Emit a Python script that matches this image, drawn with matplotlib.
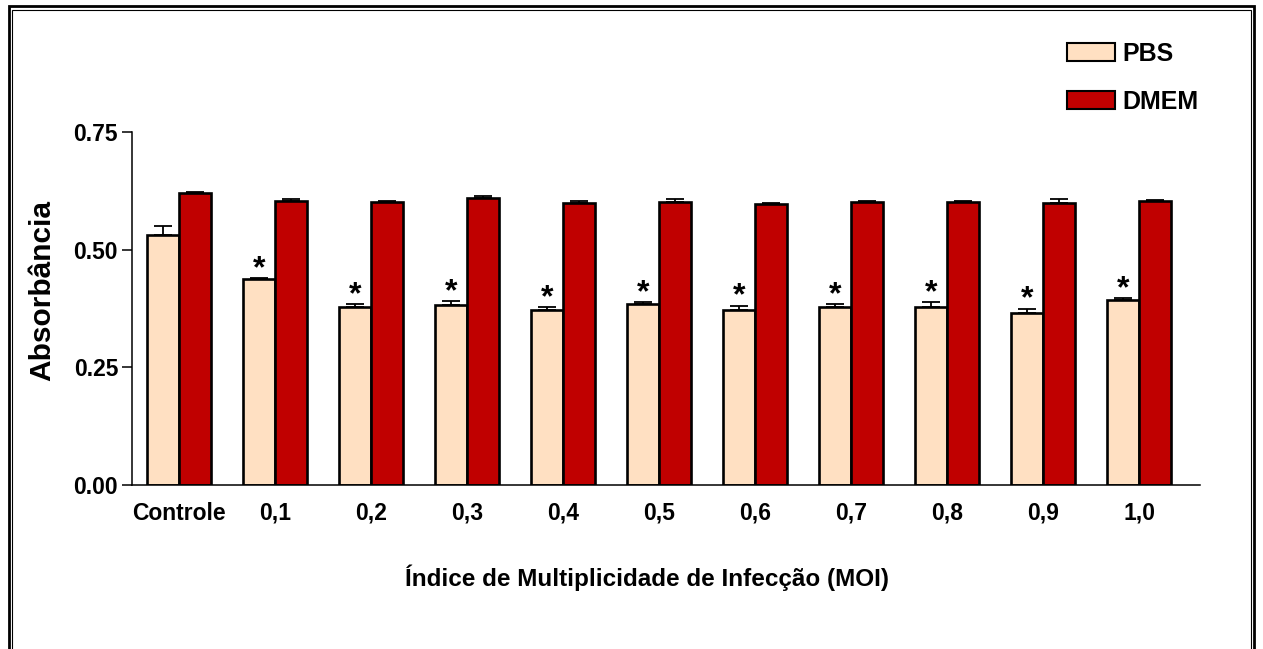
import matplotlib
matplotlib.use('Agg')
import matplotlib.pyplot as plt
from matplotlib.patches import Rectangle, Patch

import numpy as np

plt.rcParams['font.family'] = ['Liberation Sans', 'DejaVu Sans']
plt.rcParams['font.weight'] = 'bold'

# Absorbance per MOI group (mean and upper SEM)
groups = ['Controle', '0,1', '0,2', '0,3', '0,4', '0,5', '0,6', '0,7', '0,8', '0,9', '1,0']
pbs_mean = [0.532, 0.438, 0.379, 0.382, 0.372, 0.384, 0.371, 0.379, 0.379, 0.366, 0.394]
pbs_err = [0.019, 0.001, 0.005, 0.009, 0.006, 0.004, 0.010, 0.005, 0.009, 0.009, 0.003]
dmem_mean = [0.620, 0.603, 0.602, 0.609, 0.599, 0.602, 0.598, 0.602, 0.602, 0.600, 0.603]
dmem_err = [0.003, 0.005, 0.002, 0.006, 0.005, 0.006, 0.001, 0.002, 0.002, 0.007, 0.002]
# groups marked as significantly different from the control
significant = [False] + [True] * 10

PBS_COLOR = '#FFE0C2'
DMEM_COLOR = '#C00000'


def main():
    W, H = 1263, 649
    fig = plt.figure(figsize=(W / 100, H / 100), dpi=100)
    ax = fig.add_axes([132 / W, 1 - 485 / H, (1200 - 132) / W, (485 - 132) / H])

    x = np.arange(len(groups))
    w = 1 / 3

    ax.bar(x - w / 2, pbs_mean, w, color=PBS_COLOR, edgecolor='black', linewidth=1.9,
           zorder=2, label='PBS')
    ax.bar(x + w / 2, dmem_mean, w, color=DMEM_COLOR, edgecolor='black', linewidth=1.9,
           zorder=2, label='DMEM')

    # upper error bars only
    zeros = np.zeros(len(groups))
    ax.errorbar(x - w / 2, pbs_mean, yerr=[zeros, pbs_err], fmt='none', ecolor='black',
                elinewidth=1.3, capsize=6.5, capthick=1.3, zorder=3)
    ax.errorbar(x + w / 2, dmem_mean, yerr=[zeros, dmem_err], fmt='none', ecolor='black',
                elinewidth=1.3, capsize=6.5, capthick=1.3, zorder=3)

    for i, sig in enumerate(significant):
        if sig:
            ax.annotate('*', (x[i] - w / 2, pbs_mean[i] + pbs_err[i]), xytext=(0, 1),
                        textcoords='offset pixels', ha='center', va='baseline',
                        fontsize=23, fontweight='bold')

    ax.set_xlim(-0.49, 10.635)
    ax.set_ylim(0, 0.75)
    ax.set_yticks([0, 0.25, 0.5, 0.75])
    ax.set_yticklabels(['%.2f' % v for v in [0, 0.25, 0.5, 0.75]])
    ax.set_xticks(x)
    ax.set_xticklabels(groups)
    ax.tick_params(axis='y', length=7, width=1.1, pad=3, labelsize=16.5)
    ax.tick_params(axis='x', length=0, pad=12, labelsize=16.5)

    for side in ['top', 'right']:
        ax.spines[side].set_visible(False)
    for side in ['left', 'bottom']:
        ax.spines[side].set_linewidth(1.1)

    ax.set_ylabel('Absorbância', fontsize=21.5, fontweight='bold')
    ax.yaxis.set_label_coords(56 / W, 1 - 290 / H, transform=fig.transFigure)
    fig.text(647 / W, 1 - 578 / H, 'Índice de Multiplicidade de Infecção (MOI)',
             ha='center', va='center', fontsize=17.5, fontweight='bold')

    handles = [Patch(facecolor=PBS_COLOR, edgecolor='black', linewidth=1.5),
               Patch(facecolor=DMEM_COLOR, edgecolor='black', linewidth=1.5)]
    fig.legend(handles, ['PBS', 'DMEM'], loc='upper left',
               bbox_to_anchor=(1067 / W, 1 - 42 / H), frameon=False,
               prop={'size': 18, 'weight': 'bold'}, handlelength=1.9,
               handleheight=0.72, handletextpad=0.3, labelspacing=0.95,
               borderaxespad=0, borderpad=0)

    # double frame round the figure
    fig.add_artist(Rectangle((8.5 / W, -0.1), (1254 - 8.5) / W, 1.1 - 6 / H,
                             transform=fig.transFigure, fill=False,
                             edgecolor='black', linewidth=2.0))
    fig.add_artist(Rectangle((11.8 / W, -0.1), (1250.5 - 11.8) / W, 1.1 - 10 / H,
                             transform=fig.transFigure, fill=False,
                             edgecolor='black', linewidth=0.8))

    fig.savefig('out.png', dpi=100)
    plt.close()


if __name__ == '__main__':
    main()
